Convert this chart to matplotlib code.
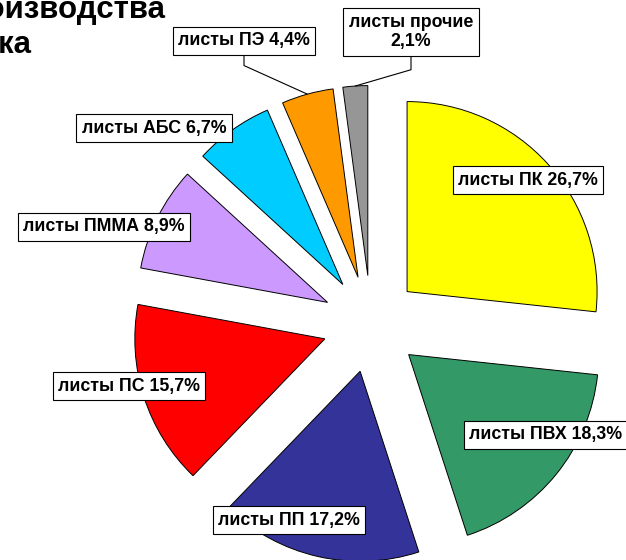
import numpy as np
import matplotlib.pyplot as plt

plt.rcParams['font.family'] = ['Liberation Sans', 'DejaVu Sans']

# Data
materials = ['листы ПК', 'листы ПВХ', 'листы ПП', 'листы ПС',
             'листы ПММА', 'листы АБС', 'листы ПЭ', 'листы прочие']
shares = [26.7, 18.3, 17.2, 15.7, 8.9, 6.7, 4.4, 2.1]
colors = ['#FFFF00', '#339966', '#333399', '#FF0000',
          '#CC99FF', '#00CCFF', '#FF9900', '#969696']

# label box centres in pixel coords (y up)
label_pos = [(528, 380), (546, 125), (289, 40), (129, 174),
             (104, 333), (154, 432), (244, 519), (411, 528)]
# leader lines only for the two small slices: angle of the slanted part
leader_angle = {6: 155.7, 7: 16.3}

fig = plt.figure(figsize=(6.26, 5.6), dpi=100)
ax = fig.add_axes([0, 0, 1, 1])

center = (371, 236)
R = 190
wedges, _ = ax.pie(shares, explode=[48.5]*len(shares), center=center, radius=R,
                   startangle=90, counterclock=False, colors=colors,
                   wedgeprops=dict(edgecolor='black', linewidth=0.7))
ax.set_xlim(0, 626)
ax.set_ylim(0, 560)
ax.set_aspect('equal')
ax.axis('off')

box = dict(boxstyle='square,pad=0.3', fc='white', ec='black', lw=0.8)
for i, (name, val) in enumerate(zip(materials, shares)):
    pct = ('%.1f%%' % val).replace('.', ',')
    sep = '\n' if name == 'листы прочие' else ' '
    txt = name + sep + pct
    if i in leader_angle:
        w = wedges[i]
        th = np.deg2rad(0.5*(w.theta1 + w.theta2))
        tip = (w.center[0] + w.r*np.cos(th), w.center[1] + w.r*np.sin(th))
        ax.annotate(txt, xy=tip, xytext=label_pos[i], ha='center', va='center',
                    multialignment='center', fontsize=12.8, fontweight='bold',
                    bbox=box,
                    arrowprops=dict(arrowstyle='-', color='black', lw=0.8,
                                    shrinkA=0, shrinkB=0,
                                    connectionstyle='angle,angleA=-90,angleB=%g,rad=0' % leader_angle[i]))
    else:
        ax.text(label_pos[i][0], label_pos[i][1], txt, ha='center', va='center',
                fontsize=12.8, fontweight='bold', bbox=box, zorder=5)

# title, partly outside the canvas as in the source
fig.text(165/626, 1 - 18/560, 'Структура мирового производства', ha='right',
         va='baseline', fontsize=22.5, fontweight='bold')
fig.text(31/626, 1 - 53/560, 'листового пластика', ha='right',
         va='baseline', fontsize=22.5, fontweight='bold')

plt.savefig('out.png', dpi=100)
